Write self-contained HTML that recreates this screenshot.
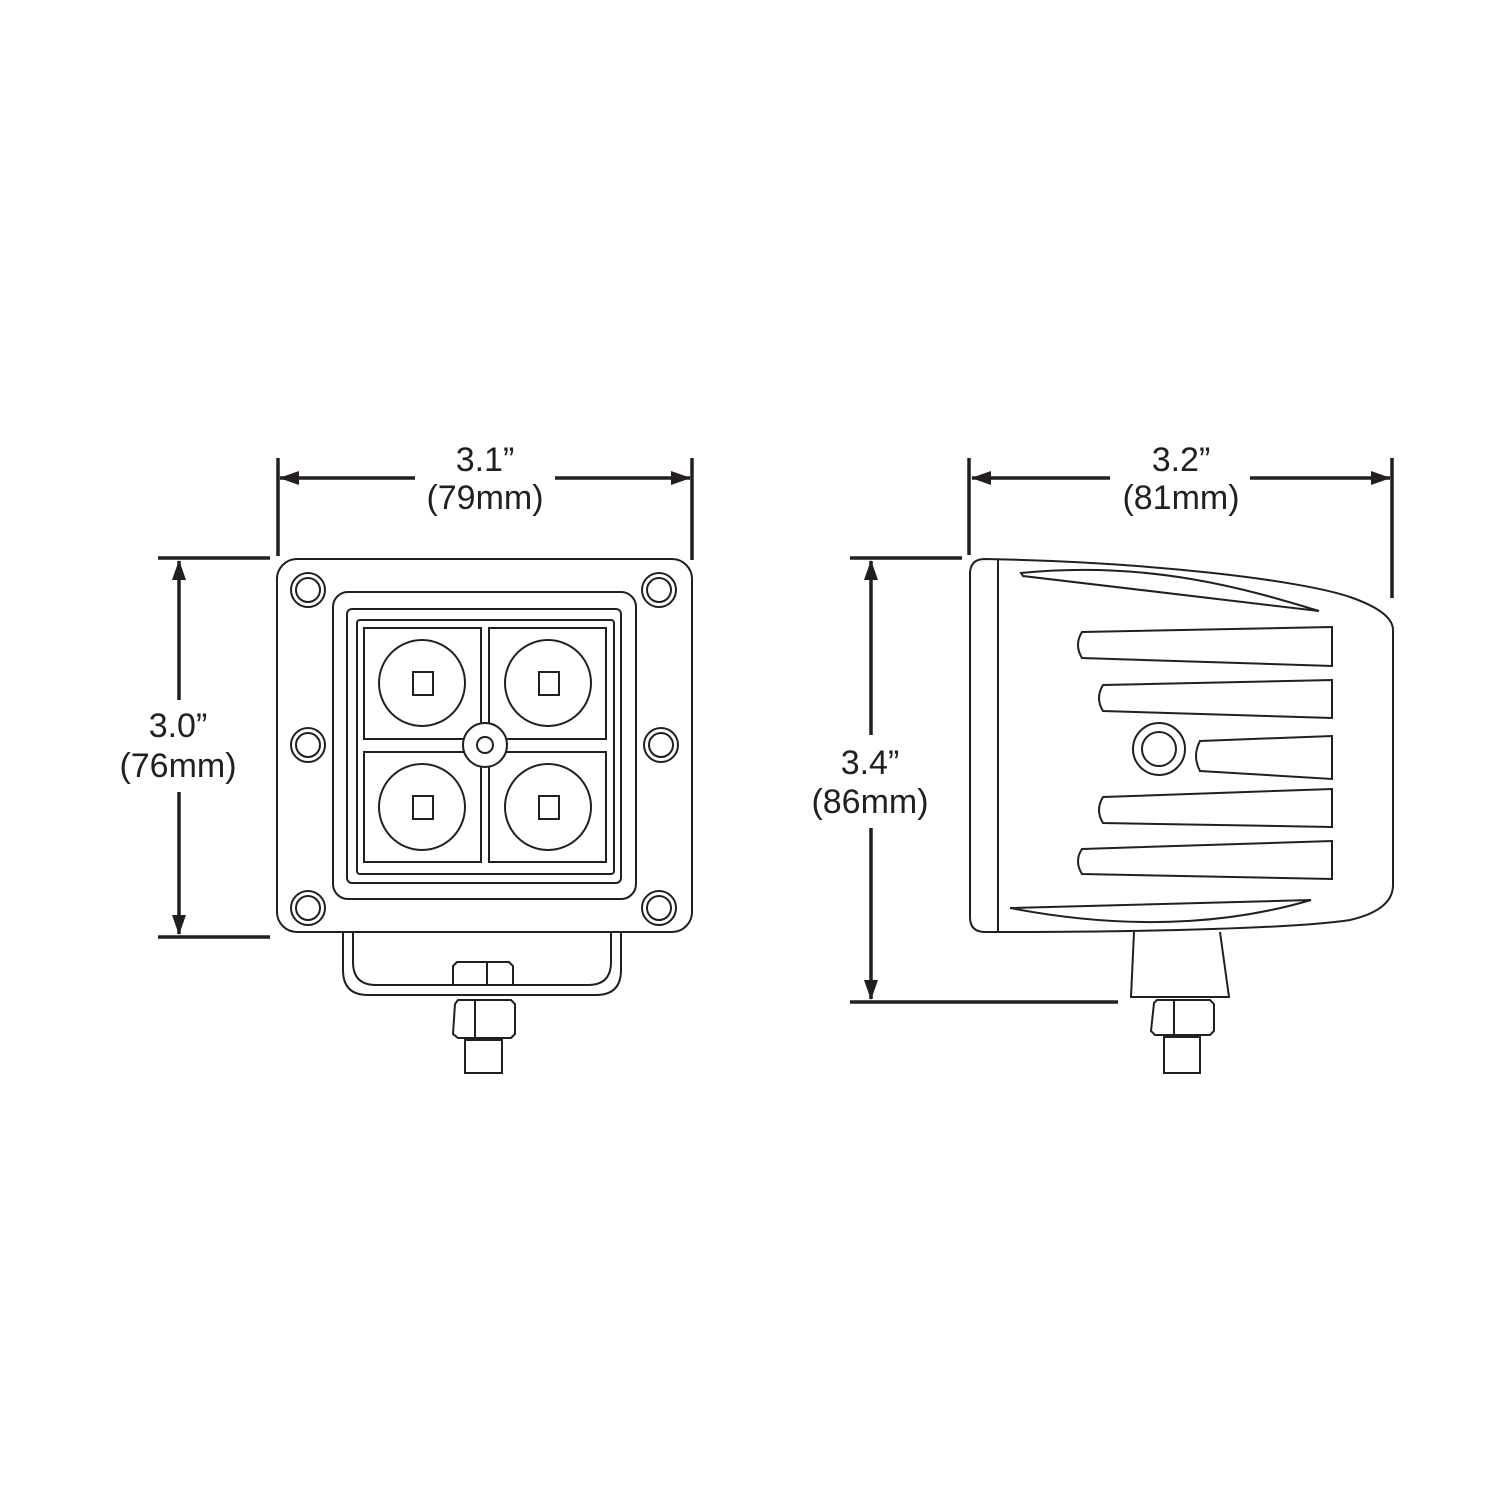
<!DOCTYPE html>
<html><head><style>
html,body{margin:0;padding:0;background:#fff;}
svg{display:block}
text{font-family:"Liberation Sans",sans-serif;font-size:34px;fill:#231f20;text-anchor:middle;}
</style></head><body>
<svg width="1500" height="1500" viewBox="0 0 1500 1500">
<defs>
<marker id="a" viewBox="0 0 20 14" refX="19" refY="7" markerWidth="20" markerHeight="14" markerUnits="userSpaceOnUse" orient="auto-start-reverse"><path d="M0,0 L20,7 L0,14 Z" fill="#231f20"/></marker>
</defs>
<g stroke="#231f20" stroke-width="3.5" fill="none">
<line x1="278" y1="458" x2="278" y2="556"/>
<line x1="692" y1="458" x2="692" y2="560"/>
<line x1="415" y1="478" x2="280" y2="478" marker-end="url(#a)"/>
<line x1="555" y1="478" x2="690" y2="478" marker-end="url(#a)"/>
<line x1="158" y1="558" x2="270" y2="558"/>
<line x1="158" y1="937" x2="270" y2="937"/>
<line x1="179" y1="700" x2="179" y2="561" marker-end="url(#a)"/>
<line x1="179" y1="792" x2="179" y2="934" marker-end="url(#a)"/>
<line x1="969" y1="458" x2="969" y2="555"/>
<line x1="1392" y1="458" x2="1392" y2="598"/>
<line x1="1110" y1="478" x2="972" y2="478" marker-end="url(#a)"/>
<line x1="1250" y1="478" x2="1390" y2="478" marker-end="url(#a)"/>
<line x1="850" y1="558" x2="962" y2="558"/>
<line x1="850" y1="1002" x2="1118" y2="1002"/>
<line x1="871" y1="735" x2="871" y2="561" marker-end="url(#a)"/>
<line x1="871" y1="828" x2="871" y2="999" marker-end="url(#a)"/>
</g>
<text x="485" y="471">3.1”</text>
<text x="485" y="509">(79mm)</text>
<text x="178" y="737">3.0”</text>
<text x="178" y="777">(76mm)</text>
<text x="1181" y="471">3.2”</text>
<text x="1181" y="509">(81mm)</text>
<text x="870" y="774">3.4”</text>
<text x="870" y="813">(86mm)</text>

<g stroke="#231f20" stroke-width="2" fill="none">
<rect x="277" y="559" width="415" height="373" rx="20"/>
<g>
<circle cx="308" cy="590" r="17"/><circle cx="308" cy="590" r="12"/>
<circle cx="659" cy="590" r="17"/><circle cx="659" cy="590" r="12"/>
<circle cx="308" cy="745" r="17"/><circle cx="308" cy="745" r="12"/>
<circle cx="661" cy="745" r="17"/><circle cx="661" cy="745" r="12"/>
<circle cx="308" cy="908" r="17"/><circle cx="308" cy="908" r="12"/>
<circle cx="659" cy="908" r="17"/><circle cx="659" cy="908" r="12"/>
</g>
<rect x="333" y="592" width="303" height="307" rx="15"/>
<rect x="347" y="609" width="274" height="274" rx="5"/>
<rect x="357" y="620" width="257" height="254" rx="3"/>
<rect x="364" y="628" width="117" height="111"/>
<rect x="489" y="628" width="117" height="111"/>
<rect x="364" y="752" width="117" height="110"/>
<rect x="489" y="752" width="117" height="110"/>
<circle cx="485" cy="745" r="22" fill="#fff"/><circle cx="485" cy="745" r="8"/>
<circle cx="422" cy="683" r="43"/><circle cx="548" cy="683" r="43"/>
<circle cx="422" cy="807" r="43"/><circle cx="548" cy="807" r="43"/>
<rect x="413" y="672" width="20" height="23"/><rect x="539" y="672" width="20" height="23"/>
<rect x="413" y="796" width="20" height="23"/><rect x="539" y="796" width="20" height="23"/>
<path d="M343,932 V970 Q343,995 368,995 H596 Q621,995 621,970 V932"/>
<path d="M353,932 V962 Q353,985 376,985 H588 Q611,985 611,962 V932"/>
<path d="M453,985 V966 L457,962 H509 L513,966 V985 M487,962 V985"/>
<path d="M455,1004 L458,1000 H511 L515,1004 V1034 L511,1038 H458 L453,1034 Z M475,1000 V1038"/>
<rect x="465" y="1040" width="37" height="33"/>
<path d="M985,559 C1150,562 1300,580 1350,597 Q1393,612 1393,630 V885 Q1393,910 1350,920 C1300,928 1150,932 998,932 H985 Q970,932 970,917 V574 Q970,559 985,559 Z"/>
<line x1="998" y1="559" x2="998" y2="932"/>
<path d="M1021,573 C1150,560 1250,590 1319,611 L1023,576 Z"/>
<path d="M1010,908 L1311,900 C1250,918 1150,935 1010,908 Z"/>
<path d="M1082,632 L1332,627 V666 L1082,658 Q1074,645 1082,632 Z"/>
<path d="M1103,685 L1332,680 V718 L1103,711 Q1095,698 1103,685 Z"/>
<path d="M1200,741 L1332,736 V779 L1200,771 Q1192,756 1200,741 Z"/>
<path d="M1103,797 L1332,789 V827 L1103,823 Q1095,810 1103,797 Z"/>
<path d="M1082,849 L1332,841 V879 L1082,874 Q1074,861 1082,849 Z"/>
<circle cx="1159" cy="749" r="26"/><circle cx="1159" cy="749" r="17"/>
<path d="M1134,932 L1131,997 H1229 L1220,932"/>
<path d="M1154,1003 L1157,1000 H1210 L1214,1004 V1031 L1210,1035 H1155 L1151,1031 Z M1174,1000 V1035"/>
<rect x="1164" y="1037" width="36" height="36"/>
</g>
</svg>
</body></html>
